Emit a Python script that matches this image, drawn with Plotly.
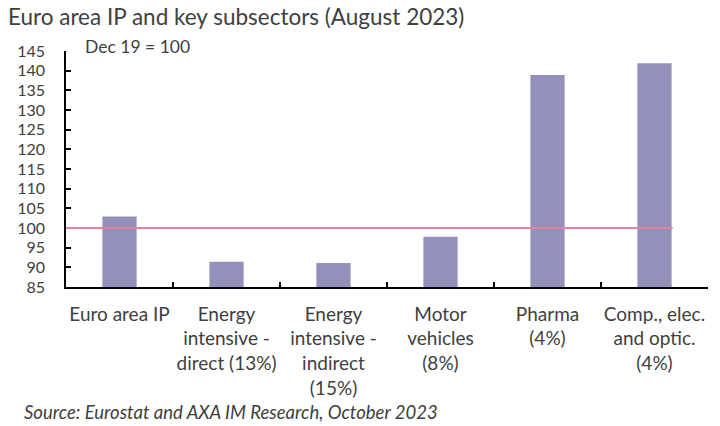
import plotly.graph_objects as go

categories = ["Euro area IP", "Energy<br>intensive -<br>direct (13%)", "Energy<br>intensive -<br>indirect<br>(15%)",
              "Motor<br>vehicles<br>(8%)", "Pharma<br>(4%)", "Comp., elec.<br>and optic.<br>(4%)"]
values = [102.9, 91.4, 91.1, 97.8, 138.9, 141.9]
baseline = 100
y_ticks = list(range(85, 150, 5))

FONT = "Lato"
TXT = "#404040"

fig = go.Figure()
fig.add_trace(go.Bar(x=categories, y=values, marker_color="#9490BC", marker_line_width=0, width=0.32))

fig.add_shape(type="line", xref="x", yref="y", x0=-0.5, x1=5.17, y0=baseline, y1=baseline,
              line=dict(color="#E6829F", width=2))

fig.update_layout(
    width=720, height=426,
    margin=dict(l=66, r=12, t=51, b=139),
    plot_bgcolor="white", paper_bgcolor="white",
    showlegend=False,
    font=dict(family=FONT, color=TXT, size=16),
    title=dict(text="Euro area IP and key subsectors (August 2023)", x=0.011, xanchor="left",
               y=0.96, yanchor="middle", font=dict(size=22.5, color=TXT, family=FONT)),
    xaxis=dict(type="category", tickson="boundaries", ticks="inside", ticklen=5, tickcolor="black",
               tickwidth=1.5, showline=True, linecolor="black", linewidth=1.5, showgrid=False,
               tickangle=0, automargin=False, ticklabelstandoff=9,
               tickfont=dict(size=19, color=TXT, family=FONT), range=[-0.5, 5.5]),
    yaxis=dict(range=[85, 145], tickvals=y_ticks, ticks="inside", ticklen=5, tickcolor="black",
               tickwidth=1.5, showline=True, linecolor="black", linewidth=1.5, showgrid=False,
               automargin=False,
               zeroline=False, tickfont=dict(size=16, color=TXT, family=FONT), ticklabelstandoff=16),
    annotations=[
        dict(text="Dec 19 = 100", xref="paper", yref="paper", x=0.0265, y=1.021, xanchor="left",
             yanchor="middle", showarrow=False, font=dict(size=17.5, color=TXT, family=FONT)),
        dict(text="<i>Source: Eurostat and AXA IM Research, October 2023</i>", xref="paper", yref="paper",
             x=-0.0685, y=-0.53, xanchor="left", yanchor="middle", showarrow=False,
             font=dict(size=18.5, color=TXT, family=FONT)),
    ],
)

fig.write_html("out.html", config={"displayModeBar": False},
               post_script="document.body.style.margin='0';")
